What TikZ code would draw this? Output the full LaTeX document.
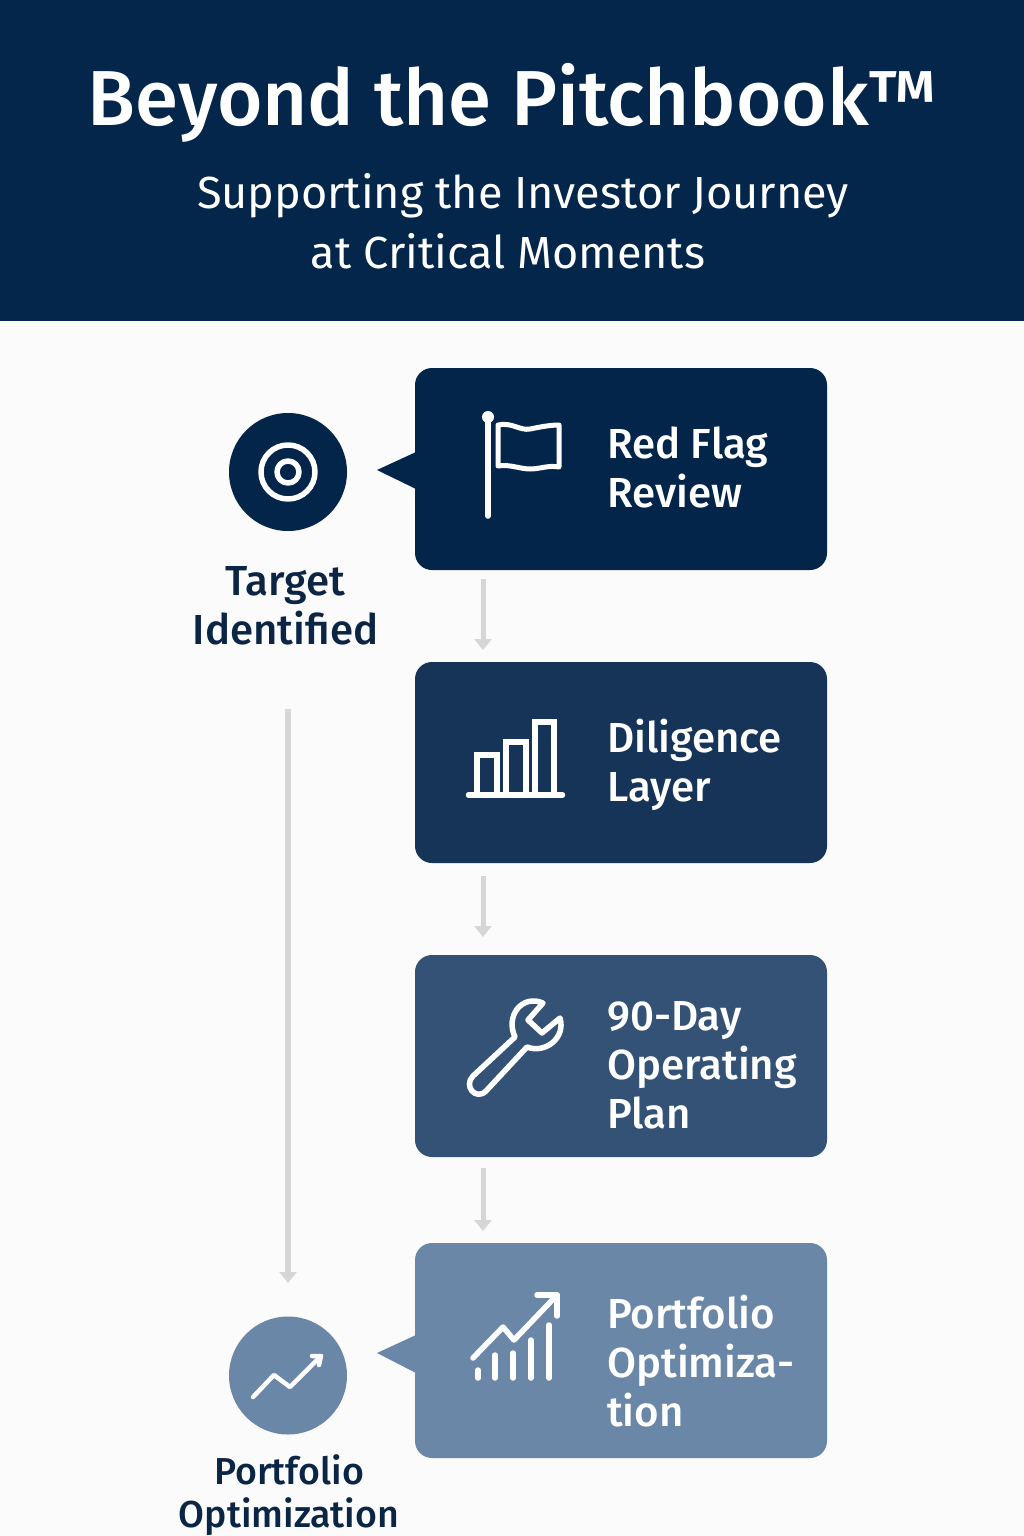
\documentclass[tikz,border=0pt]{standalone}
\usepackage{fontspec}
\setmainfont{Fira Sans Medium}
\newfontfamily\subfont{Fira Sans}
\usetikzlibrary{arrows.meta}
\definecolor{navy}{HTML}{03264A}
\definecolor{boxa}{HTML}{04254A}
\definecolor{boxb}{HTML}{163457}
\definecolor{boxc}{HTML}{345275}
\definecolor{boxd}{HTML}{6A87A8}
\definecolor{paper}{HTML}{FBFBFB}
\definecolor{link}{HTML}{D6D6D6}
\definecolor{inkblue}{HTML}{0B2545}
\tikzset{
  x=1pt,y=-1pt,
  stepbox/.style={rectangle,rounded corners=17pt,minimum width=412pt,inner sep=0pt},
  disc/.style={circle,minimum size=118pt,inner sep=0pt},
  boxtext/.style={anchor=base west,align=left,text=white,inner sep=0pt,font=\fontsize{42}{49}\selectfont},
  sidetext/.style={anchor=base,align=center,text=inkblue,inner sep=0pt,font=\fontsize{42}{49}\selectfont},
  flowline/.style={link,line width=5pt,-{Triangle[width=17pt,length=11pt]}},
  glyph/.style={draw=white,line width=5.5pt,line cap=round,line join=round},
  subline/.style={anchor=base,text=white,inner sep=0pt,font=\subfont\fontsize{45}{60}\selectfont},
}
\begin{document}
\begin{tikzpicture}
\useasboundingbox (0,0) rectangle (1024,1536);
\fill[paper] (0,0) rectangle (1024,1536);
\fill[navy] (0,0) rectangle (1024,321);
\node[anchor=base,text=white,inner sep=0pt,font=\fontsize{78}{80}\selectfont] (title) at (512.5,125) {Beyond the Pitchbook™};
\node[subline] (sub1) at (523,208) {Supporting the Investor Journey};
\node[subline] (sub2) at (508,268) {at Critical Moments};

\node[stepbox,fill=boxa,minimum height=202pt] (red) at (621,469) {};
\node[stepbox,fill=boxb,minimum height=201pt] (dil) at (621,762.5) {};
\node[stepbox,fill=boxc,minimum height=202pt] (plan) at (621,1056) {};
\node[stepbox,fill=boxd,minimum height=215pt] (port) at (621,1350.5) {};
\fill[boxa] (416,452) -- (377,470) -- (416,489) -- cycle;
\fill[boxd] (416,1335) -- (377,1353) -- (416,1373) -- cycle;

\node[disc,fill=boxa] (target) at (288,472) {};
\node[disc,fill=boxd] (optim) at (288,1375.5) {};

\node[boxtext] (redt) at (607,507) {Red Flag\\Review};
\node[boxtext] (dilt) at (607,801) {Diligence\\Layer};
\node[boxtext] (plant) at (607,1128) {90-Day\\Operating\\Plan};
\node[boxtext] (portt) at (607,1426) {Portfolio\\Optimiza-\\tion};
\node[sidetext] (targett) at (285.5,644) {Target\\Identified};
\node[sidetext,font=\fontsize{37.5}{43}\selectfont] (optimt) at (289,1527) {Portfolio\\Optimization};

% connectors
\coordinate (a1) at (483,579); \coordinate (a2) at (483,650);
\coordinate (b1) at (483,876); \coordinate (b2) at (483,937);
\coordinate (c1) at (483,1168); \coordinate (c2) at (483,1231);
\coordinate (d1) at (288,709); \coordinate (d2) at (288,1283);
\draw[flowline] (a1) -- (a2);
\draw[flowline] (b1) -- (b2);
\draw[flowline] (c1) -- (c2);
\draw[flowline,line width=6pt] (d1) -- (d2);

% target icon
\draw[glyph] (288,472) circle (27);
\draw[glyph] (288,472) circle (11);
% flag icon
\fill[white] (488,417) circle (6);
\draw[glyph] (488,417) -- (488,516);
\draw[glyph,line width=5pt] (498,425) .. controls (512,422) and (520,431) .. (530,429) .. controls (540,427) and (550,425) .. (559,425)
  -- (559,467) .. controls (548,465) and (540,469) .. (530,469) .. controls (520,469) and (510,464) .. (498,466) -- cycle;
% bars icon
\draw[glyph] (468.5,795) -- (562.5,795);
\draw[glyph,line cap=butt,line join=miter] (477,795) -- (477,755) -- (497,755) -- (497,795);
\draw[glyph,line cap=butt,line join=miter] (506,795) -- (506,742) -- (526,742) -- (526,795);
\draw[glyph,line cap=butt,line join=miter] (535,795) -- (535,722) -- (554,722) -- (554,795);
% wrench icon
\draw[glyph] (515,1037) -- (473,1076) .. controls (463,1086) and (476,1101) .. (486,1091) -- (527,1047)
  .. controls (545,1054) and (566,1038) .. (560,1018) -- (542,1033) -- (528,1020) -- (543,1003)
  .. controls (522,994) and (505,1016) .. (515,1037) -- cycle;
% growth icon in box
\draw[glyph] (473,1358) -- (503,1327) -- (514,1340) -- (557,1295);
\draw[glyph] (537,1295) -- (557,1295) -- (557,1316);
\foreach \px/\py in {478/1370,495/1355,513/1353,531/1340,549/1325}
  \draw[glyph] (\px,\py) -- (\px,1378);
% growth icon in circle
\draw[glyph,line width=4.5pt] (253,1397) -- (274,1375) -- (290,1387) -- (321,1356);
\draw[glyph,line width=4.5pt] (312,1356) -- (321,1356) -- (319,1365);
\end{tikzpicture}
\end{document}
